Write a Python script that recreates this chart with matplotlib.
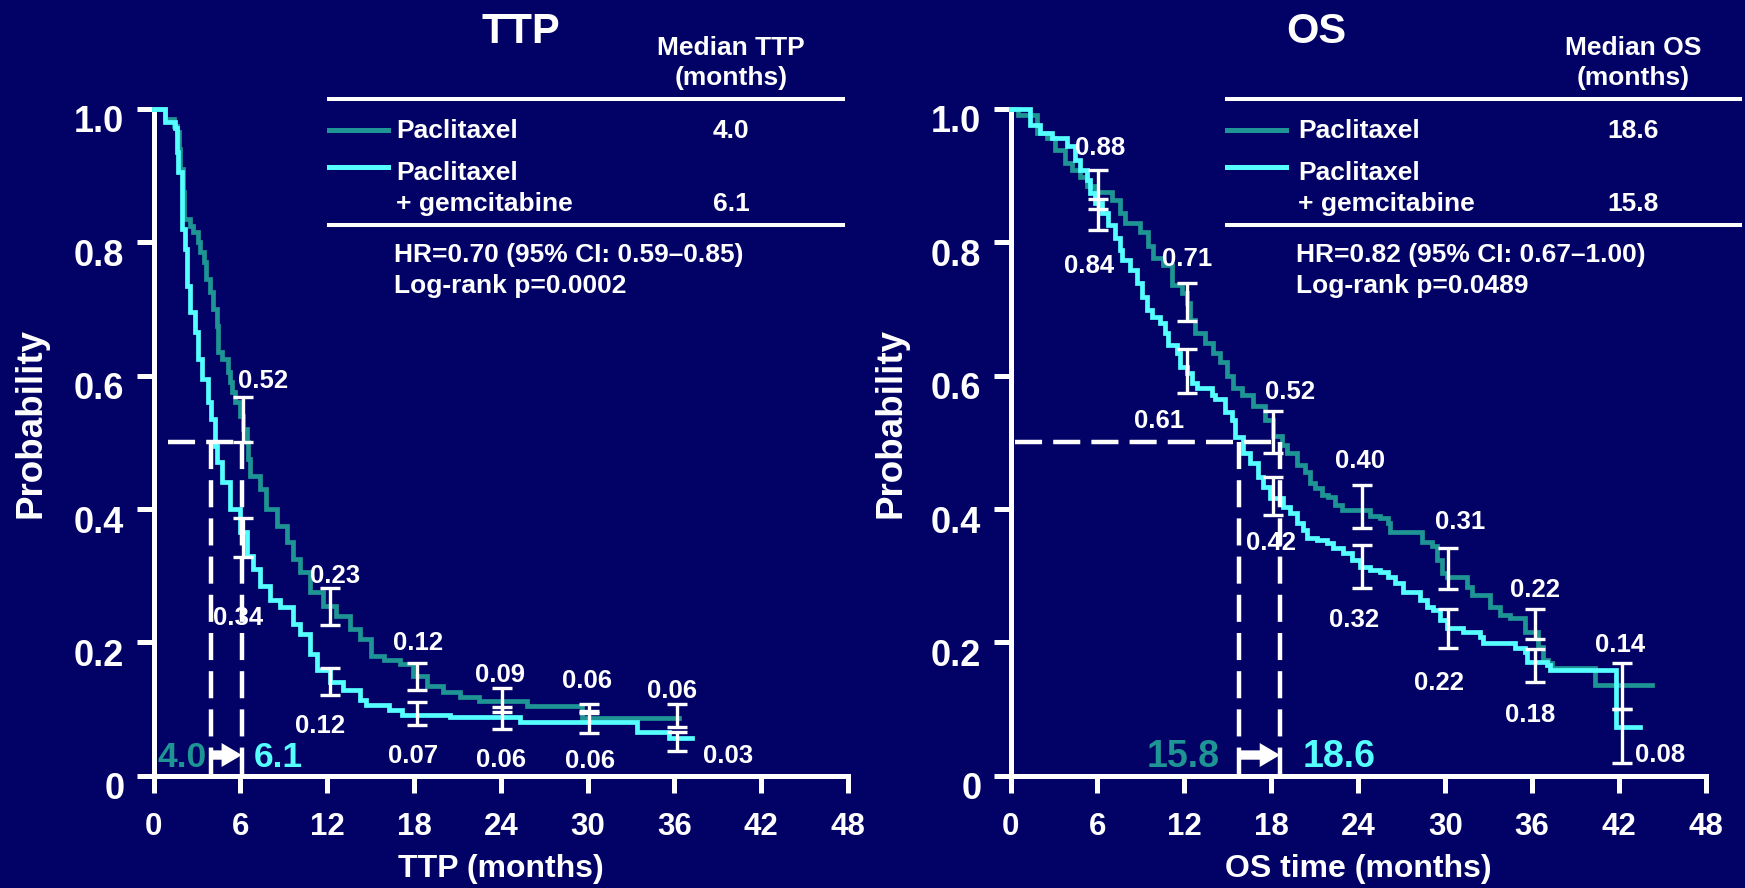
import matplotlib
matplotlib.use('Agg')
import matplotlib.pyplot as plt
import matplotlib.transforms as mtransforms
from matplotlib.lines import Line2D
from matplotlib.patches import FancyArrow

plt.rcParams['font.family'] = ['Liberation Sans', 'DejaVu Sans']
plt.rcParams['font.weight'] = 'bold'
plt.rcParams['lines.scale_dashes'] = False

BG = '#020266'
TEAL = '#1E9494'
CYAN = '#55FFFF'
WHITE = 'white'

# ---------------- data ----------------
x_ticks = [0, 6, 12, 18, 24, 30, 36, 42, 48]
y_ticks = [0, 0.2, 0.4, 0.6, 0.8, 1.0]
y_tick_labels = ['0', '0.2', '0.4', '0.6', '0.8', '1.0']

# TTP - Paclitaxel (teal)
ttp_pac_t = [0, 0.8, 1.4, 1.6, 1.75, 1.85, 2.0, 2.1, 2.5, 2.75, 3.1, 3.2, 3.45, 3.65, 3.9,
             4.1, 4.35, 4.47, 4.7, 5.17, 5.3, 5.4, 5.65, 5.95, 6.2, 6.43, 6.55, 6.66, 7.35,
             7.8, 8.5, 9.2, 9.65, 10.1, 10.8, 11.7, 12.6, 13.6, 14.3, 15.0, 15.9, 17.0,
             17.9, 18.9, 20.0, 21.2, 22.5, 25.8, 29.6, 36.3]
ttp_pac_s = [1.0, 0.985, 0.975, 0.965, 0.94, 0.91, 0.875, 0.835, 0.825, 0.815, 0.80, 0.785,
             0.77, 0.745, 0.725, 0.70, 0.675, 0.635, 0.625, 0.605, 0.59, 0.575, 0.56, 0.54,
             0.52, 0.50, 0.475, 0.45, 0.43, 0.40, 0.375, 0.35, 0.325, 0.305, 0.275, 0.255,
             0.24, 0.22, 0.205, 0.18, 0.173, 0.168, 0.15, 0.135, 0.125, 0.118, 0.112, 0.104,
             0.086, 0.086]

# TTP - Paclitaxel + gemcitabine (cyan)
ttp_gem_t = [0, 0.79, 1.48, 1.6, 1.71, 1.94, 1.96, 2.17, 2.29, 2.52, 2.86, 3.09, 3.32, 3.78,
             4.0, 4.24, 4.36, 4.7, 5.28, 5.97, 6.43, 6.87, 7.35, 8.05, 8.74, 9.65, 10.1,
             10.8, 11.3, 12.2, 13.1, 14.3, 14.7, 16.3, 17.2, 20.5, 25.3, 33.4, 35.6, 37.2]
ttp_gem_s = [1.0, 0.981, 0.971, 0.935, 0.905, 0.865, 0.82, 0.79, 0.735, 0.695, 0.665, 0.625,
             0.595, 0.56, 0.535, 0.495, 0.47, 0.44, 0.40, 0.365, 0.33, 0.31, 0.285, 0.263,
             0.253, 0.228, 0.213, 0.183, 0.158, 0.14, 0.128, 0.113, 0.106, 0.098, 0.091,
             0.088, 0.081, 0.066, 0.056, 0.056]

# OS - Paclitaxel (teal)
os_pac_t = [0, 0.54, 1.81, 2.5, 3.07, 3.76, 4.22, 4.8, 5.26, 5.83, 6.98, 7.56, 7.9, 8.94,
            9.51, 9.86, 10.55, 11.12, 11.81, 12.16, 12.39, 12.73, 13.42, 14.0, 14.46, 14.92,
            15.38, 15.96, 16.76, 17.56, 18.14, 18.72, 19.06, 19.75, 20.32, 20.67, 21.01,
            21.48, 21.93, 22.39, 22.86, 24.81, 25.5, 26.07, 26.18, 28.4, 29.07, 29.41, 29.76,
            30.1, 31.48, 31.83, 33.09, 33.78, 34.47, 35.5, 36.43, 36.77, 37.12, 37.35, 40.34,
            44.25]
os_pac_s = [1.0, 0.991, 0.964, 0.956, 0.939, 0.919, 0.909, 0.898, 0.884, 0.876, 0.864, 0.844,
            0.829, 0.816, 0.794, 0.776, 0.766, 0.736, 0.724, 0.709, 0.684, 0.664, 0.649, 0.634,
            0.621, 0.599, 0.581, 0.571, 0.554, 0.534, 0.509, 0.496, 0.484, 0.466, 0.456, 0.439,
            0.431, 0.421, 0.418, 0.406, 0.399, 0.389, 0.386, 0.379, 0.366, 0.351, 0.344, 0.324,
            0.304, 0.2985, 0.2835, 0.271, 0.2535, 0.241, 0.236, 0.216, 0.1935, 0.1735, 0.1686,
            0.161, 0.136, 0.136]

# OS - Paclitaxel + gemcitabine (cyan)
os_gem_t = [0, 1.35, 2.04, 2.84, 3.88, 4.45, 4.8, 5.26, 5.49, 5.83, 6.29, 6.75, 7.21, 7.56,
            7.67, 8.25, 8.71, 9.05, 9.4, 9.74, 10.32, 10.66, 10.89, 11.47, 11.7, 12.16, 12.5,
            12.85, 13.88, 14.1, 14.8, 15.27, 15.5, 16.07, 16.53, 17.1, 17.45, 17.91, 18.83,
            19.29, 19.75, 20.21, 20.44, 21.13, 21.82, 22.28, 22.97, 23.55, 24.12, 24.81, 25.5,
            26.07, 26.54, 27.11, 28.26, 28.72, 29.18, 29.64, 30.1, 31.25, 32.4, 32.63, 34.8,
            35.5, 35.62, 37.0, 37.23, 41.8, 43.44]
os_gem_s = [1.0, 0.976, 0.964, 0.956, 0.944, 0.9235, 0.9085, 0.8935, 0.8736, 0.8586, 0.8436,
            0.826, 0.806, 0.7885, 0.7735, 0.7585, 0.7386, 0.7185, 0.6985, 0.6885, 0.6786,
            0.6636, 0.646, 0.6336, 0.6135, 0.6036, 0.5886, 0.581, 0.571, 0.565, 0.546, 0.534,
            0.5085, 0.4836, 0.4686, 0.4485, 0.4335, 0.416, 0.4035, 0.3936, 0.3786, 0.3685,
            0.356, 0.3535, 0.3486, 0.341, 0.3336, 0.3235, 0.3135, 0.3085, 0.306, 0.2985,
            0.2886, 0.276, 0.2635, 0.2535, 0.2485, 0.2335, 0.221, 0.216, 0.2085, 0.1986,
            0.191, 0.186, 0.171, 0.166, 0.1585, 0.0735, 0.0735]

# Confidence bars
ttp_ci_x = [6.2, 12.2, 18.2, 24.1, 30.1, 36.15]
ttp_pac_lo = [0.50, 0.226, 0.1285, 0.096, 0.094, 0.0735]
ttp_pac_hi = [0.568, 0.281, 0.169, 0.131, 0.1075, 0.1075]
ttp_gem_lo = [0.328, 0.121, 0.076, 0.0705, 0.0635, 0.037]
ttp_gem_hi = [0.386, 0.161, 0.111, 0.1035, 0.097, 0.066]

os_ci_x = [6.06, 12.16, 18.1, 24.24, 30.17, 36.2, 42.18]
os_pac_lo = [0.85, 0.6825, 0.484, 0.371, 0.2796, 0.205, 0.10]
os_pac_hi = [0.908, 0.739, 0.547, 0.436, 0.341, 0.2496, 0.1695]
os_gem_lo = [0.818, 0.5736, 0.391, 0.281, 0.191, 0.141, 0.0186]
os_gem_hi = [0.865, 0.6395, 0.4485, 0.346, 0.2496, 0.19, 0.10]

# Point labels: text, x, y(baseline)
ttp_labels = [('0.52', 7.56, 0.581), ('0.34', 5.83, 0.226), ('0.23', 12.54, 0.2886),
              ('0.12', 11.5, 0.0636), ('0.12', 18.27, 0.1886), ('0.07', 17.93, 0.0186),
              ('0.09', 23.95, 0.141), ('0.06', 24.0, 0.0135), ('0.06', 29.94, 0.131),
              ('0.06', 30.17, 0.011), ('0.06', 35.8, 0.116), ('0.03', 39.7, 0.0186)]
os_labels = [('0.88', 6.18, 0.931), ('0.84', 5.44, 0.7545), ('0.71', 12.22, 0.765),
             ('0.61', 10.25, 0.521), ('0.52', 19.29, 0.5646), ('0.42', 17.98, 0.3386),
             ('0.40', 24.12, 0.461), ('0.32', 23.73, 0.2235), ('0.31', 31.02, 0.3696),
             ('0.22', 36.2, 0.2685), ('0.22', 29.59, 0.1286), ('0.18', 35.89, 0.081),
             ('0.14', 42.04, 0.186), ('0.08', 44.84, 0.021)]

ttp_medians = [4.0, 6.1]    # paclitaxel, paclitaxel + gemcitabine
os_medians = [18.6, 15.8]

# ---------------- figure ----------------
W, H = 1745, 888
fig = plt.figure(figsize=(W / 100, H / 100), dpi=100, facecolor=BG)


def P(x, y):
    return (x / W, 1 - y / H)


def setup_axes(ax, xlabel, ylab_x):
    ax.set_facecolor(BG)
    ax.set_xlim(0, 48)
    ax.set_ylim(0, 1.0)
    for s in ['top', 'right']:
        ax.spines[s].set_visible(False)
    for s in ['left', 'bottom']:
        ax.spines[s].set_color(WHITE)
        ax.spines[s].set_linewidth(3.6)
        ax.spines[s].set_capstyle('projecting')
    ax.set_xticks(x_ticks)
    ax.set_xticklabels([str(v) for v in x_ticks], fontsize=22.5, fontweight='bold', color=WHITE)
    ax.set_yticks(y_ticks)
    ax.set_yticklabels(y_tick_labels, fontsize=26, fontweight='bold', color=WHITE)
    ax.tick_params(axis='x', direction='out', length=12, width=3.6, color=WHITE, pad=14)
    ax.tick_params(axis='y', direction='out', length=12, width=3.6, color=WHITE, pad=9)
    off = mtransforms.ScaledTranslation(0, -0.10, fig.dpi_scale_trans)
    for lbl in ax.get_yticklabels():
        lbl.set_transform(lbl.get_transform() + off)
    ax.set_xlabel(xlabel, fontsize=23, fontweight='bold', color=WHITE)
    ax.xaxis.set_label_coords(0.5, -0.152)
    ax.xaxis.label.set_va('baseline')
    ax.set_ylabel('Probability', fontsize=26.5, fontweight='bold', color=WHITE)
    ax.yaxis.set_label_coords(ylab_x, 0.529)
    ax.yaxis.label.set_va('center')


def km(ax, t, s, color):
    ax.plot(t, s, drawstyle='steps-post', color=color, lw=3.4, clip_on=False, zorder=3,
            solid_joinstyle='miter')


def ci(ax, x, lo, hi):
    mid = [(a + b) / 2 for a, b in zip(lo, hi)]
    half = [(b - a) / 2 for a, b in zip(lo, hi)]
    ax.errorbar(x, mid, yerr=half, fmt='none', ecolor=WHITE, elinewidth=2.4,
                capsize=7.2, capthick=2.4, zorder=5, clip_on=False)


def labels(ax, items):
    for txt, x, y in items:
        ax.text(x, y, txt, ha='center', va='baseline', fontsize=18.5, fontweight='bold',
                color=WHITE, zorder=4)


def medians(ax, x_lo, x_hi, x_start, size, lab_lo_x, lab_hi_x, col_lo, col_hi, txt_lo, txt_hi):
    dash = (19.5, 8)
    ax.plot([x_start, x_hi], [0.5, 0.5], color=WHITE, lw=3.2, dashes=dash, zorder=6)
    ax.plot([x_lo, x_lo], [0.5, 0.0], color=WHITE, lw=3.2, dashes=dash, zorder=6)
    ax.plot([x_hi, x_hi], [0.5, 0.0], color=WHITE, lw=3.2, dashes=dash, zorder=6)
    ax.add_patch(FancyArrow(x_lo, 0.031, x_hi - x_lo, 0, width=0.014, head_width=0.036,
                            head_length=1.4, length_includes_head=True, color=WHITE,
                            lw=0, zorder=7))
    ax.text(lab_lo_x, 0.013, txt_lo, ha='center', va='baseline', fontsize=size,
            fontweight='bold', color=col_lo, zorder=7)
    ax.text(lab_hi_x, 0.013, txt_hi, ha='center', va='baseline', fontsize=size,
            fontweight='bold', color=col_hi, zorder=7)


# ---- TTP panel ----
ax1 = fig.add_axes([153.6 / W, 1 - 775.7 / H, 694.4 / W, 666.7 / H])
setup_axes(ax1, 'TTP (months)', -0.1766)
km(ax1, ttp_pac_t, ttp_pac_s, TEAL)
km(ax1, ttp_gem_t, ttp_gem_s, CYAN)
ci(ax1, ttp_ci_x, ttp_pac_lo, ttp_pac_hi)
ci(ax1, ttp_ci_x, ttp_gem_lo, ttp_gem_hi)
labels(ax1, ttp_labels)
medians(ax1, ttp_medians[0], ttp_medians[1], 1.0, 25.5, 1.95, 8.6, TEAL, CYAN,
        f'{ttp_medians[0]:.1f}', f'{ttp_medians[1]:.1f}')

# ---- OS panel ----
ax2 = fig.add_axes([1010.5 / W, 1 - 775.7 / H, 695.5 / W, 666.7 / H])
setup_axes(ax2, 'OS time (months)', -0.1718)
km(ax2, os_pac_t, os_pac_s, TEAL)
km(ax2, os_gem_t, os_gem_s, CYAN)
ci(ax2, os_ci_x, os_pac_lo, os_pac_hi)
ci(ax2, os_ci_x, os_gem_lo, os_gem_hi)
labels(ax2, os_labels)
medians(ax2, os_medians[1], os_medians[0], 0.3, 27, 11.9, 22.7, TEAL, CYAN,
        f'{os_medians[1]:.1f}', f'{os_medians[0]:.1f}')


# ---- header tables ----
def table(title, title_x, head, x0, x1, text_x, val_x, v_pac, v_gem, hr, lr):
    fig.text(*P(title_x, 43), title, ha='center', va='baseline', fontsize=30,
             fontweight='bold', color=WHITE)
    fig.text(*P(val_x, 55), head, ha='center', va='baseline', fontsize=19,
             fontweight='bold', color=WHITE)
    fig.text(*P(val_x, 85), '(months)', ha='center', va='baseline', fontsize=19,
             fontweight='bold', color=WHITE)
    for yy in (99.3, 225):
        fig.add_artist(Line2D([x0 / W, x1 / W], [1 - yy / H, 1 - yy / H], color=WHITE,
                              lw=2.9, transform=fig.transFigure))
    fig.add_artist(Line2D([x0 / W, (x0 + 58.5) / W], [1 - 130 / H] * 2, color=TEAL,
                          lw=3.6, transform=fig.transFigure))
    fig.add_artist(Line2D([x0 / W, (x0 + 58.5) / W], [1 - 167 / H] * 2, color=CYAN,
                          lw=3.6, transform=fig.transFigure))
    kw = dict(va='baseline', fontsize=19, fontweight='bold', color=WHITE)
    fig.text(*P(text_x, 138), 'Paclitaxel', ha='left', **kw)
    fig.text(*P(val_x, 138), v_pac, ha='center', **kw)
    fig.text(*P(text_x, 180), 'Paclitaxel', ha='left', **kw)
    fig.text(*P(text_x, 211), '+ gemcitabine', ha='left', **kw)
    fig.text(*P(val_x, 211), v_gem, ha='center', **kw)
    fig.text(*P(text_x - 2.5, 262), hr, ha='left', **kw)
    fig.text(*P(text_x - 2.5, 293), lr, ha='left', **kw)


table('TTP', 521, 'Median TTP', 329, 843, 396, 731, f'{ttp_medians[0]:.1f}',
      f'{ttp_medians[1]:.1f}', 'HR=0.70 (95% CI: 0.59\u20130.85)', 'Log-rank p=0.0002')
table('OS', 1316, 'Median OS', 1227, 1740, 1298, 1633, f'{os_medians[0]:.1f}',
      f'{os_medians[1]:.1f}', 'HR=0.82 (95% CI: 0.67\u20131.00)', 'Log-rank p=0.0489')

fig.savefig('out.png', dpi=100, facecolor=BG)
